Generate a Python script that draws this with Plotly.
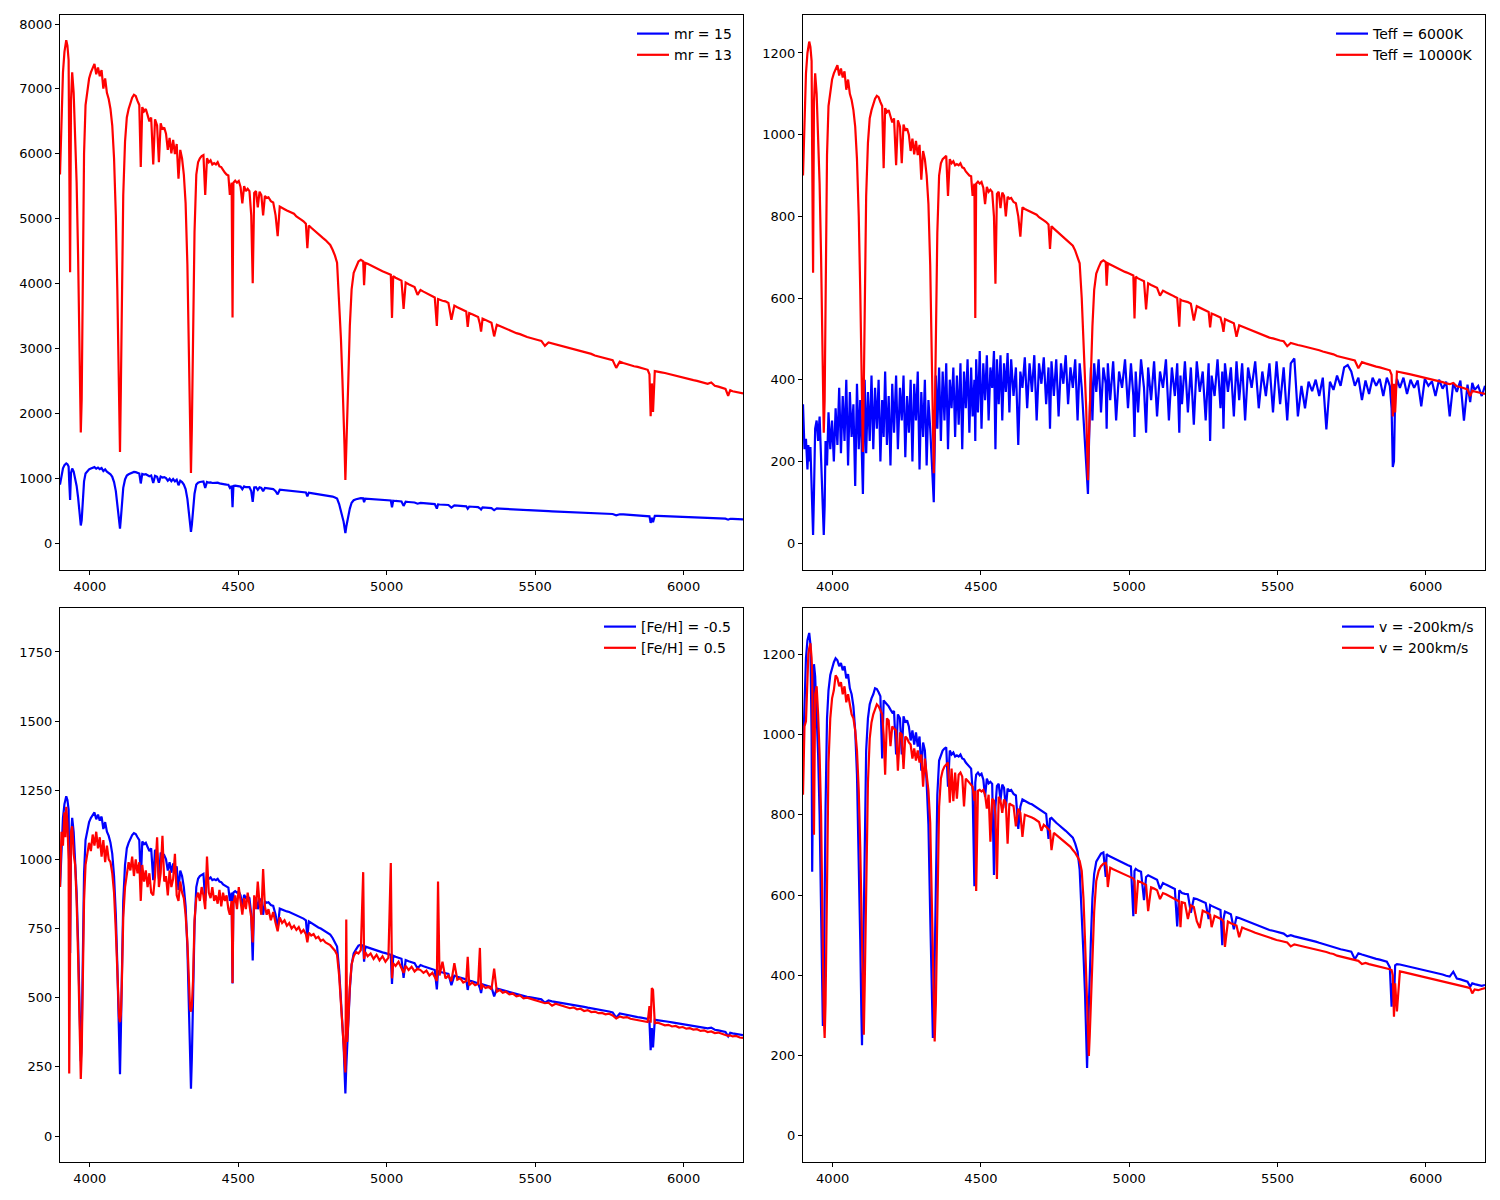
import plotly.graph_objects as go

# Wavelength grid (Angstrom)
wave = [
    3900, 3905, 3910, 3915, 3918, 3921, 3925, 3929, 3931, 3934,
    3937, 3941, 3946, 3951, 3956, 3961, 3965, 3967, 3970, 3973,
    3976, 3981, 3986, 3992, 3998, 4004, 4010, 4016, 4022, 4028,
    4034, 4040, 4046, 4052, 4058, 4064, 4070, 4076, 4082, 4088,
    4093, 4097, 4099, 4102, 4105, 4108, 4113, 4119, 4125, 4131,
    4137, 4143, 4149, 4155, 4161, 4167, 4172, 4177, 4183, 4189,
    4195, 4201, 4207, 4214, 4220, 4227, 4233, 4239, 4245, 4251,
    4257, 4263, 4269, 4275, 4281, 4287, 4293, 4299, 4305, 4311,
    4317, 4323, 4329, 4334, 4338, 4341, 4344, 4348, 4353, 4359,
    4365, 4371, 4377, 4383, 4389, 4395, 4401, 4407, 4413, 4419,
    4425, 4431, 4437, 4443, 4449, 4455, 4461, 4467, 4472, 4478,
    4481, 4484, 4490, 4496, 4502, 4508, 4514, 4520, 4526, 4532,
    4538, 4544, 4549, 4554, 4560, 4566, 4572, 4578, 4584, 4590,
    4596, 4602, 4610, 4618, 4626, 4633, 4640, 4648, 4656, 4664,
    4672, 4680, 4688, 4696, 4704, 4712, 4720, 4728, 4733, 4738,
    4746, 4754, 4762, 4770, 4778, 4786, 4794, 4802, 4810, 4818,
    4826, 4833, 4840, 4846, 4851, 4855, 4858, 4861, 4864, 4867,
    4871, 4876, 4882, 4889, 4897, 4905, 4913, 4921, 4924, 4928,
    4936, 4946, 4956, 4966, 4976, 4986, 4996, 5006, 5014, 5018,
    5022, 5030, 5040, 5050, 5057, 5064, 5074, 5084, 5094, 5104,
    5114, 5124, 5134, 5144, 5154, 5162, 5169, 5173, 5178, 5188,
    5198, 5208, 5218, 5228, 5238, 5248, 5258, 5268, 5273, 5278,
    5288, 5298, 5308, 5314, 5318, 5323, 5333, 5343, 5353, 5362,
    5371, 5381, 5391, 5401, 5413, 5425, 5437, 5449, 5461, 5473,
    5485, 5497, 5509, 5521, 5533, 5545, 5557, 5569, 5581, 5593,
    5605, 5617, 5629, 5641, 5653, 5665, 5677, 5689, 5701, 5713,
    5725, 5737, 5749, 5761, 5773, 5785, 5797, 5809, 5821, 5833,
    5845, 5857, 5869, 5879, 5885, 5889, 5893, 5897, 5903, 5913,
    5925, 5937, 5949, 5961, 5973, 5985, 5997, 6009, 6021, 6033,
    6045, 6057, 6069, 6081, 6093, 6105, 6117, 6129, 6141, 6150,
    6157, 6165, 6177, 6189, 6200,
]

# Teff = 10000K, mr = 15, [Fe/H] = -0.5, v = 0  (reference model)
flux_mr15 = [
    900, 1060, 1150, 1200, 1220, 1228, 1215, 1180, 950, 662,
    1080, 1150, 1100, 1000, 880, 700, 450, 340, 270, 350,
    600, 950, 1070, 1110, 1135, 1150, 1160, 1170, 1145, 1162,
    1140, 1155, 1110, 1135, 1100, 1085, 1060, 1020, 940, 800,
    620, 430, 330, 223, 380, 560, 850, 980, 1040, 1060,
    1075, 1088, 1095, 1092, 1080, 1070, 918, 1065, 1055, 1060,
    1045, 1030, 1040, 925, 1035, 1020, 930, 1025, 1010, 1015,
    1000, 960, 990, 952, 985, 950, 975, 890, 960, 940,
    900, 830, 680, 450, 280, 171, 280, 480, 760, 900,
    930, 940, 945, 948, 850, 940, 930, 935, 925, 928,
    925, 930, 920, 918, 910, 905, 900, 898, 850, 880,
    551, 880, 885, 880, 884, 870, 830, 872, 860, 865,
    860, 800, 635, 855, 860, 820, 858, 850, 800, 848,
    843, 845, 835, 832, 800, 750, 822, 818, 815, 812,
    810, 806, 804, 798, 795, 790, 786, 780, 720, 776,
    770, 765, 760, 754, 750, 745, 740, 735, 728, 716,
    702, 685, 600, 500, 400, 330, 240, 154, 250, 330,
    400, 530, 620, 660, 675, 688, 692, 688, 630, 685,
    682, 678, 675, 671, 668, 664, 661, 658, 655, 550,
    652, 648, 645, 641, 572, 636, 632, 629, 625, 606,
    618, 614, 611, 607, 603, 600, 530, 596, 594, 592,
    590, 586, 545, 580, 576, 573, 569, 566, 528, 562,
    559, 556, 552, 535, 517, 548, 545, 541, 538, 505,
    533, 530, 527, 524, 520, 516, 513, 510, 506, 503,
    501, 498, 496, 494, 482, 490, 487, 485, 483, 481,
    479, 477, 474, 472, 469, 467, 464, 462, 458, 456,
    454, 452, 450, 447, 428, 443, 440, 437, 435, 432,
    430, 428, 425, 423, 412, 310, 390, 320, 420, 419,
    417, 415, 413, 411, 409, 407, 404, 402, 400, 398,
    396, 394, 391, 389, 392, 384, 382, 379, 376, 360,
    373, 371, 369, 367, 365,
]

# mr = 13
flux_mr13 = [
    5680, 6690, 7255, 7570, 7700, 7750, 7665, 7445, 5995, 4175,
    6815, 7255, 6940, 6310, 5555, 4415, 2840, 2145, 1705, 2210,
    3785, 5995, 6750, 7005, 7160, 7255, 7320, 7385, 7225, 7330,
    7195, 7290, 7005, 7160, 6940, 6845, 6690, 6435, 5930, 5050,
    3910, 2715, 2080, 1405, 2400, 3535, 5365, 6185, 6560, 6690,
    6785, 6865, 6910, 6890, 6815, 6750, 5795, 6720, 6655, 6690,
    6595, 6500, 6560, 5835, 6530, 6435, 5870, 6470, 6375, 6405,
    6310, 6060, 6245, 6005, 6215, 5995, 6150, 5615, 6060, 5930,
    5680, 5235, 4290, 2840, 1765, 1080, 1765, 3030, 4795, 5680,
    5870, 5930, 5965, 5980, 5365, 5930, 5870, 5900, 5835, 5855,
    5835, 5870, 5805, 5795, 5740, 5710, 5680, 5665, 5365, 5555,
    3475, 5555, 5585, 5555, 5580, 5490, 5235, 5500, 5425, 5460,
    5425, 5050, 4005, 5395, 5425, 5175, 5415, 5365, 5050, 5350,
    5320, 5330, 5270, 5250, 5050, 4730, 5185, 5160, 5145, 5125,
    5110, 5085, 5075, 5035, 5015, 4985, 4960, 4920, 4545, 4895,
    4860, 4825, 4795, 4760, 4730, 4700, 4670, 4640, 4595, 4520,
    4430, 4320, 3785, 3155, 2525, 2080, 1515, 970, 1580, 2080,
    2525, 3345, 3910, 4165, 4260, 4340, 4365, 4340, 3975, 4320,
    4305, 4280, 4260, 4235, 4215, 4190, 4170, 4150, 4135, 3470,
    4115, 4090, 4070, 4045, 3610, 4015, 3990, 3970, 3945, 3825,
    3900, 3875, 3855, 3830, 3805, 3785, 3345, 3760, 3750, 3735,
    3725, 3700, 3440, 3660, 3635, 3615, 3590, 3570, 3330, 3545,
    3525, 3510, 3485, 3375, 3260, 3460, 3440, 3415, 3395, 3185,
    3365, 3345, 3325, 3305, 3280, 3255, 3235, 3220, 3195, 3175,
    3160, 3140, 3130, 3115, 3040, 3090, 3075, 3060, 3050, 3035,
    3025, 3010, 2990, 2980, 2960, 2945, 2930, 2915, 2890, 2875,
    2865, 2850, 2840, 2820, 2700, 2795, 2775, 2755, 2745, 2725,
    2715, 2700, 2680, 2670, 2600, 1955, 2460, 2020, 2650, 2645,
    2630, 2620, 2605, 2595, 2580, 2570, 2550, 2535, 2525, 2510,
    2500, 2485, 2465, 2455, 2475, 2425, 2410, 2390, 2375, 2270,
    2355, 2340, 2330, 2315, 2305,
]

# Teff = 6000K
flux_teff6000 = [
    340, 230, 255, 180, 240, 200, 235, 150, 60, 20,
    120, 280, 300, 250, 310, 200, 120, 40, 20, 90,
    250, 190, 320, 230, 300, 200, 330, 240, 380, 220,
    360, 250, 400, 190, 370, 260, 340, 140, 390, 230,
    350, 260, 200, 120, 260, 400, 220, 370, 250, 410,
    230, 380, 280, 400, 200, 350, 260, 420, 240, 360,
    190, 390, 270, 410, 230, 380, 300, 410, 210, 360,
    270, 400, 200, 390, 300, 420, 180, 370, 260, 400,
    190, 350, 280, 200, 150, 100, 230, 410, 280, 430,
    250, 420, 300, 440, 230, 400, 330, 430, 260, 410,
    290, 440, 230, 420, 330, 450, 270, 430, 310, 400,
    250, 450, 320, 470, 280, 440, 350, 460, 300, 430,
    380, 470, 230, 450, 340, 460, 300, 440, 370, 465,
    320, 450, 360, 430, 240, 420, 380, 455, 330, 440,
    370, 460, 300, 440, 390, 455, 340, 430, 280, 445,
    360, 450, 310, 440, 390, 460, 340, 430, 380, 450,
    300, 440, 380, 300, 250, 200, 160, 120, 230, 350,
    430, 300, 440, 370, 450, 320, 430, 390, 280, 440,
    350, 445, 300, 420, 380, 450, 330, 440, 360, 260,
    420, 320, 450, 380, 270, 430, 350, 445, 310, 420,
    380, 450, 300, 430, 360, 440, 270, 410, 340, 445,
    320, 430, 290, 445, 370, 420, 300, 440, 250, 410,
    360, 450, 330, 420, 280, 440, 370, 430, 310, 445,
    350, 440, 300, 430, 380, 445, 330, 420, 360, 440,
    320, 445, 340, 430, 300, 440, 452, 310, 385, 330,
    395, 372, 400, 360, 405, 278, 395, 375, 410, 385,
    430, 436, 420, 385, 405, 350, 398, 365, 405, 385,
    402, 360, 405, 385, 330, 186, 200, 360, 402, 380,
    405, 365, 400, 380, 398, 335, 402, 385, 396, 360,
    400, 378, 395, 310, 392, 370, 398, 300, 388, 345,
    392, 375, 385, 360, 385,
]

# [Fe/H] = 0.5
flux_feh_p05 = [
    900, 1100, 1050, 1170, 1080, 1190, 1130, 1000, 226, 600,
    1100, 1120, 1020, 980, 850, 650, 420, 280, 206, 300,
    520, 850, 980, 1020, 1060, 1030, 1090, 1050, 1100, 1040,
    1080, 1010, 1070, 990, 1050, 1000, 990, 950, 880, 740,
    600, 480, 430, 412, 440, 540, 790, 900, 950, 990,
    960, 1010, 940, 1000, 950, 990, 850, 980, 920, 960,
    900, 950, 880, 870, 940, 1080, 900, 950, 1085, 920,
    940, 870, 960, 900, 930, 1020, 870, 850, 920, 880,
    860, 800, 700, 540, 460, 450, 470, 560, 780, 860,
    880, 850, 900, 870, 820, 1010, 880, 860, 900, 850,
    870, 840, 890, 830, 880, 850, 870, 820, 800, 850,
    553, 840, 870, 820, 900, 850, 800, 860, 820, 880,
    830, 790, 700, 870, 820, 920, 840, 800, 965, 830,
    800, 820, 780, 810, 770, 740, 790, 770, 780, 760,
    770, 750, 760, 745, 755, 735, 745, 730, 700, 735,
    725, 730, 715, 720, 705, 710, 700, 695, 690, 680,
    670, 655, 580, 480, 380, 320, 260, 230, 783, 340,
    420, 540, 620, 650, 665, 660, 672, 954, 640, 665,
    650, 660, 640, 655, 635, 650, 630, 645, 987, 570,
    625, 615, 630, 605, 590, 615, 600, 612, 595, 605,
    600, 590, 598, 580, 590, 575, 560, 920, 580, 630,
    570, 580, 560, 625, 565, 570, 555, 560, 648, 545,
    555, 545, 550, 680, 530, 545, 535, 540, 530, 605,
    522, 528, 518, 522, 512, 515, 505, 508, 498, 500,
    495, 492, 488, 485, 480, 482, 471, 478, 474, 470,
    468, 462, 465, 458, 460, 452, 455, 448, 450, 444,
    445, 440, 442, 436, 425, 432, 428, 430, 424, 422,
    420, 416, 414, 412, 470, 410, 535, 528, 408, 410,
    405, 400, 402, 396, 398, 392, 394, 388, 390, 385,
    386, 380, 382, 376, 378, 372, 374, 368, 365, 362,
    364, 360, 362, 356, 355,
]

# v = -200 km/s
flux_v_m200 = [
    950, 1100, 1190, 1235, 1250, 1253, 1225, 1000, 658, 1080,
    1175, 1145, 1060, 950, 800, 510, 330, 274, 357, 612,
    816, 1040, 1110, 1148, 1168, 1180, 1190, 1185, 1170, 1178,
    1160, 1170, 1140, 1150, 1115, 1100, 1070, 1010, 900, 700,
    490, 300, 226, 390, 560, 760, 960, 1040, 1075, 1090,
    1100, 1115, 1113, 1105, 1095, 940, 1085, 1080, 1075, 1070,
    1062, 1055, 1058, 950, 1050, 1040, 950, 1045, 1030, 1035,
    1020, 985, 1010, 975, 1005, 970, 995, 910, 980, 960,
    880, 775, 550, 340, 244, 290, 440, 650, 850, 935,
    950, 960, 965, 968, 870, 960, 950, 955, 945, 948,
    945, 950, 940, 938, 930, 925, 920, 915, 860, 622,
    880, 900, 905, 898, 902, 888, 845, 890, 878, 882,
    877, 650, 820, 872, 877, 836, 875, 867, 816, 865,
    860, 862, 852, 848, 765, 820, 838, 834, 831, 828,
    826, 822, 820, 814, 811, 806, 802, 740, 790, 792,
    785, 780, 775, 769, 765, 760, 755, 750, 743, 728,
    708, 663, 560, 450, 357, 250, 169, 255, 337, 400,
    490, 592, 653, 683, 694, 703, 706, 645, 702, 699,
    696, 692, 689, 685, 681, 677, 674, 671, 547, 660,
    665, 661, 658, 587, 645, 649, 645, 642, 638, 615,
    630, 626, 623, 619, 615, 522, 612, 608, 605, 603,
    602, 556, 592, 590, 587, 584, 580, 540, 575, 573,
    570, 567, 563, 475, 540, 559, 556, 552, 515, 545,
    543, 540, 537, 534, 530, 526, 523, 520, 516, 513,
    511, 508, 506, 504, 497, 500, 497, 495, 493, 491,
    489, 487, 484, 481, 478, 476, 473, 471, 467, 465,
    463, 461, 459, 440, 455, 452, 449, 446, 444, 441,
    439, 437, 434, 420, 322, 380, 335, 425, 428, 427,
    425, 423, 421, 419, 417, 415, 412, 410, 408, 406,
    404, 402, 399, 397, 409, 392, 390, 387, 384, 372,
    380, 378, 376, 374, 376,
]

# v = 200 km/s
flux_v_p200 = [
    850, 1020, 1033, 1180, 1200, 1215, 1227, 1190, 1150, 900,
    750, 1100, 1120, 1050, 950, 800, 560, 400, 300, 244,
    330, 620, 930, 1040, 1090, 1110, 1147, 1140, 1120, 1130,
    1100, 1120, 1080, 1100, 1070, 1050, 1040, 1010, 960, 860,
    720, 560, 450, 300, 252, 370, 620, 880, 990, 1030,
    1050, 1065, 1075, 1070, 1060, 1050, 1000, 900, 1040, 1035,
    971, 1020, 1015, 1010, 910, 1005, 1000, 914, 995, 990,
    980, 975, 940, 965, 935, 960, 930, 950, 870, 940,
    900, 860, 780, 600, 400, 280, 235, 330, 560, 820,
    890, 910, 920, 925, 930, 830, 915, 834, 905, 840,
    900, 905, 895, 821, 890, 885, 880, 875, 870, 835,
    860, 610, 860, 862, 858, 862, 850, 815, 850, 733,
    840, 835, 800, 640, 845, 835, 805, 838, 830, 728,
    828, 825, 822, 771, 815, 805, 745, 800, 798, 795,
    793, 790, 787, 782, 760, 775, 770, 765, 760, 712,
    755, 750, 745, 740, 735, 730, 725, 720, 712, 705,
    695, 685, 660, 590, 490, 395, 325, 240, 199, 250,
    330, 420, 560, 635, 660, 672, 678, 680, 670, 620,
    668, 664, 661, 657, 654, 650, 647, 644, 641, 635,
    553, 635, 632, 628, 625, 560, 619, 616, 612, 590,
    605, 602, 598, 595, 591, 588, 584, 520, 582, 580,
    540, 574, 570, 535, 518, 561, 558, 554, 551, 520,
    548, 545, 541, 538, 534, 471, 534, 530, 527, 524,
    495, 519, 516, 514, 510, 506, 503, 500, 496, 493,
    491, 488, 486, 484, 482, 472, 477, 475, 473, 471,
    469, 467, 465, 462, 460, 458, 455, 453, 449, 447,
    445, 443, 441, 438, 436, 428, 431, 428, 426, 423,
    421, 419, 417, 415, 413, 400, 297, 380, 310, 410,
    408, 406, 404, 402, 400, 398, 396, 394, 392, 390,
    388, 386, 383, 381, 379, 377, 374, 372, 370, 368,
    355, 365, 363, 366, 368,
]

x_ticks = [4000, 4500, 5000, 5500, 6000]
x_range = [3900, 6200]

panels = [
    # (axis suffix, legend id, y range, y ticks, traces)
    ("", "legend", [-416, 8139], list(range(0, 8001, 1000)),
     [(flux_mr15, "blue", "mr = 15"), (flux_mr13, "red", "mr = 13")]),
    ("2", "legend2", [-66, 1293], list(range(0, 1201, 200)),
     [(flux_teff6000, "blue", "Teff = 6000K"), (flux_mr15, "red", "Teff = 10000K")]),
    ("3", "legend3", [-94, 1909], list(range(0, 1751, 250)),
     [(flux_mr15, "blue", "[Fe/H] = -0.5"), (flux_feh_p05, "red", "[Fe/H] = 0.5")]),
    ("4", "legend4", [-65, 1315], list(range(0, 1201, 200)),
     [(flux_v_m200, "blue", "v = -200km/s"), (flux_v_p200, "red", "v = 200km/s")]),
]

W, H = 1500, 1200
# pixel boxes of the four axes: (left, right, top, bottom)
boxes = [(60, 743, 15, 570), (803, 1485, 15, 570),
         (60, 743, 608, 1162), (803, 1485, 608, 1162)]

fig = go.Figure()
font = dict(family="DejaVu Sans", size=13, color="black")
legend_font = dict(family="DejaVu Sans", size=14, color="black")
axis_style = dict(showline=True, linecolor="black", linewidth=1, mirror=True,
                  ticks="outside", ticklen=4, tickwidth=1, tickcolor="black",
                  showgrid=False, zeroline=False, tickfont=font)

layout = dict(width=W, height=H, margin=dict(l=0, r=0, t=0, b=0),
              paper_bgcolor="white", plot_bgcolor="white", showlegend=True)

for (suf, leg, yr, yt, traces), (l, r, t, b) in zip(panels, boxes):
    for y, color, name in traces:
        fig.add_trace(go.Scatter(x=wave, y=y, mode="lines", name=name,
                                 line=dict(color=color, width=2.2),
                                 xaxis="x" + suf, yaxis="y" + suf, legend=leg))
    layout["xaxis" + suf] = dict(domain=[l / W, r / W], range=x_range,
                                 tickvals=x_ticks, anchor="y" + suf, **axis_style)
    layout["yaxis" + suf] = dict(domain=[1 - b / H, 1 - t / H], range=yr,
                                 tickvals=yt, anchor="x" + suf, **axis_style)
    layout[leg] = dict(x=(r - 6) / W, xanchor="right", y=1 - (t + 3) / H,
                       yanchor="top", bgcolor="rgba(0,0,0,0)", borderwidth=0,
                       font=legend_font, itemwidth=32, tracegroupgap=0)

fig.update_layout(**layout)
fig.write_html("out.html", config={"displayModeBar": False},
               post_script="document.body.style.margin='0px';")
